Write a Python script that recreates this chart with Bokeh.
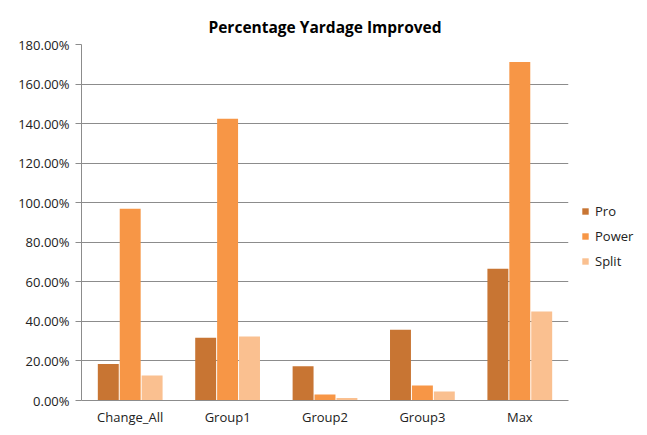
from bokeh.plotting import figure
from bokeh.models import ColumnDataSource, FactorRange, Legend, LegendItem, NumeralTickFormatter, FixedTicker
from bokeh.transform import dodge
from bokeh.embed import file_html
from bokeh.resources import INLINE

categories = ["Change_All", "Group1", "Group2", "Group3", "Max"]
pro = [0.185, 0.317, 0.173, 0.358, 0.666]
power = [0.970, 1.424, 0.030, 0.076, 1.712]
split = [0.126, 0.323, 0.013, 0.045, 0.450]
y_ticks = [0.0, 0.2, 0.4, 0.6, 0.8, 1.0, 1.2, 1.4, 1.6, 1.8]

src = ColumnDataSource(dict(cat=categories, pro=pro, power=power, split=split))

FONT = "Open Sans"
p = figure(x_range=FactorRange(*categories), y_range=(0, 1.8),
           frame_width=487, frame_height=356, width=647, height=435,
           min_border_left=81, min_border_top=44, min_border_bottom=35, min_border_right=79,
           output_backend="svg", toolbar_location=None,
           title="Percentage Yardage Improved")
p.x_range.range_padding = 0
p.title.align = "center"
p.title.vertical_align = "top"
p.title.text_font = FONT
p.title.text_font_size = "15.5px"
p.title.text_font_style = "bold"
p.title.text_color = "#000000"
p.title.standoff = 10

w = 0.215
r1 = p.vbar(x=dodge("cat", -0.225, range=p.x_range), top="pro", width=w, source=src,
            fill_color="#C87533", line_color=None)
r2 = p.vbar(x=dodge("cat", 0.0, range=p.x_range), top="power", width=w, source=src,
            fill_color="#F79646", line_color=None)
r3 = p.vbar(x=dodge("cat", 0.225, range=p.x_range), top="split", width=w, source=src,
            fill_color="#FAC090", line_color=None)

p.yaxis.ticker = FixedTicker(ticks=y_ticks)
p.yaxis.formatter = NumeralTickFormatter(format="0.00%")
p.ygrid.ticker = FixedTicker(ticks=y_ticks)
p.ygrid.grid_line_color = "#8C8C8C"
p.xgrid.grid_line_color = None
p.outline_line_color = None

for ax in (p.xaxis, p.yaxis):
    ax.axis_line_color = "#8C8C8C"
    ax.major_label_text_font = FONT
    ax.major_label_text_font_size = "13px"
    ax.major_label_text_color = "#222222"
p.yaxis.major_tick_line_color = "#8C8C8C"
p.yaxis.major_tick_out = 6
p.yaxis.major_tick_in = 0
p.yaxis.minor_tick_line_color = None
p.yaxis.major_label_standoff = 6
p.xaxis.major_tick_line_color = None
p.xaxis.major_tick_out = 0
p.xaxis.major_tick_in = 0
p.xaxis.major_label_standoff = 7

legend = Legend(items=[LegendItem(label="Pro", renderers=[r1]),
                       LegendItem(label="Power", renderers=[r2]),
                       LegendItem(label="Split", renderers=[r3])],
                location=(13, 130), border_line_color=None, background_fill_alpha=0,
                label_text_font=FONT, label_text_font_size="13px", label_text_color="#222222",
                glyph_width=8, glyph_height=8, spacing=7, label_standoff=6, padding=0, margin=0)
p.add_layout(legend, "right")

open("out.html", "w").write(file_html(p, INLINE))
